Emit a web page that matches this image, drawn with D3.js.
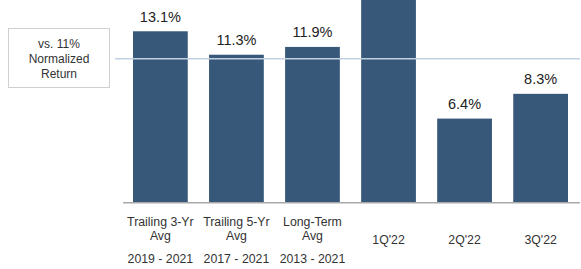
<!DOCTYPE html>
<html><head><meta charset="utf-8">
<script src="https://cdn.jsdelivr.net/npm/d3@7"></script>
<style>body{margin:0;background:#fff}svg{display:block}</style>
</head><body>
<script>
const categories = ["Trailing 3-Yr Avg", "Trailing 5-Yr Avg", "Long-Term Avg", "1Q'22", "2Q'22", "3Q'22"];
const labelLines = [["Trailing 3-Yr", "Avg"], ["Trailing 5-Yr", "Avg"], ["Long-Term", "Avg"], ["1Q'22"], ["2Q'22"], ["3Q'22"]];
const periods = ["2019 - 2021", "2017 - 2021", "2013 - 2021", "", "", ""];
const values = [13.1, 11.3, 11.9, 16.5, 6.4, 8.3];
// 1Q'22's bar runs past the top of the picture, so its label is not visible
const valueLabels = ["13.1%", "11.3%", "11.9%", "", "6.4%", "8.3%"];
const normalized = 11;
const boxLines = ["vs. 11%", "Normalized", "Return"];

const W = 581, H = 269;
const svg = d3.select("body").append("svg").attr("width", W).attr("height", H);
const font = "Liberation Sans, Arial, sans-serif";

const x = d3.scaleBand().domain(categories).range([133, 568]).paddingInner(0.28).paddingOuter(0);
const y = d3.scaleLinear().domain([0, 15.5]).range([202, 0]);

svg.append("g").selectAll("rect").data(values).join("rect")
  .attr("x", (d, i) => x(categories[i]))
  .attr("width", x.bandwidth())
  .attr("y", d => Math.max(0, y(d)))
  .attr("height", d => y(0) - Math.max(0, y(d)))
  .attr("fill", "#375878");

// axis baseline
svg.append("line").attr("x1", 123).attr("x2", 580).attr("y1", y(0) + 0.75).attr("y2", y(0) + 0.75)
  .attr("stroke", "#a8a8a8").attr("stroke-width", 1.5);

// normalized line
svg.append("line").attr("x1", 115).attr("x2", 580).attr("y1", y(normalized)).attr("y2", y(normalized))
  .attr("stroke", "#bfd1e2").attr("stroke-width", 1.5);

// value labels
const vl = values.map((d, i) => ({ d, i })).filter(o => valueLabels[o.i] !== "");
svg.append("g").selectAll("text").data(vl).join("text")
  .attr("x", o => x(categories[o.i]) + x.bandwidth() / 2)
  .attr("y", o => y(o.d) - 9.5)
  .attr("text-anchor", "middle")
  .attr("font-family", font).attr("font-size", 14.5).attr("fill", "#222")
  .text(o => valueLabels[o.i]);

// category labels
const cl = svg.append("g");
categories.forEach((c, i) => {
  const cx = x(c) + x.bandwidth() / 2;
  const lines = labelLines[i];
  if (lines.length === 1) {
    cl.append("text").attr("x", cx).attr("y", 243.5).attr("text-anchor", "middle")
      .attr("font-family", font).attr("font-size", 12.3).attr("fill", "#333").text(lines[0]);
  } else {
    lines.forEach((t, j) => {
      cl.append("text").attr("x", cx).attr("y", 226 + j * 14).attr("text-anchor", "middle")
        .attr("font-family", font).attr("font-size", 12.3).attr("fill", "#333").text(t);
    });
    cl.append("text").attr("x", cx).attr("y", 263).attr("text-anchor", "middle")
      .attr("font-family", font).attr("font-size", 12.3).attr("fill", "#333").text(periods[i]);
  }
});

// box
svg.append("rect").attr("x", 8.5).attr("y", 28.5).attr("width", 101).attr("height", 59)
  .attr("fill", "#fff").attr("stroke", "#d0d0d0");
boxLines.forEach((t, j) => {
  svg.append("text").attr("x", 59).attr("y", 47.5 + j * 15).attr("text-anchor", "middle")
    .attr("font-family", font).attr("font-size", 12).attr("fill", "#333").text(t);
});
</script>
</body></html>
